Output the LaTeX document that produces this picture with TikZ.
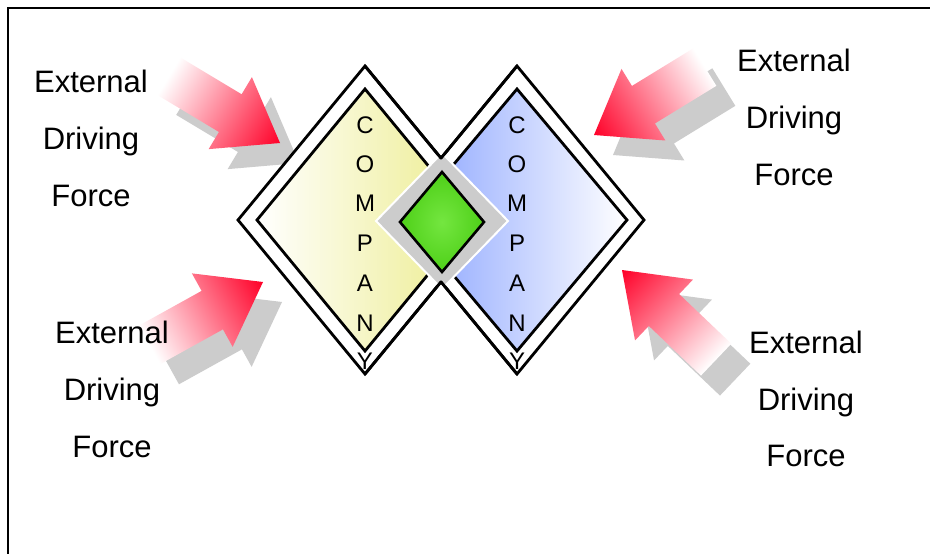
\documentclass[tikz,border=0pt]{standalone}
\usepackage{fontspec}
\setmainfont{Liberation Sans}
\definecolor{ylw}{RGB}{236,236,140}
\definecolor{blu}{RGB}{136,162,255}
\definecolor{shd}{RGB}{204,204,204}
\definecolor{arred}{RGB}{255,0,40}
\definecolor{grnin}{RGB}{116,230,64}
\definecolor{grnout}{RGB}{78,208,24}
\newcommand{\farrow}[3]{%
  \begin{scope}[transform canvas={shift={(#1+19,#2+20)},rotate=#3}]
    \fill[shd] (0,0) -- (-58,42) -- (-58,22) -- (-130,22) -- (-130,-22) -- (-58,-22) -- (-58,-42) -- cycle;
  \end{scope}
  \begin{scope}[transform canvas={shift={(#1,#2)},rotate=#3}]
    \shade[left color=white, right color=arred] (0,0) -- (-58,42) -- (-58,22) -- (-130,22) -- (-130,-22) -- (-58,-22) -- (-58,-42) -- cycle;
  \end{scope}}
\begin{document}
\begin{tikzpicture}[x=1pt,y=-1pt,
  frameline/.style={line width=2.5pt},
  outerd/.style={fill=white, draw=black, line width=2.8pt},
  innerd/.style={draw=black, line width=2.8pt},
  lbl/.style={anchor=base, inner sep=0pt, font=\fontsize{31}{31}\selectfont},
  ltr/.style={anchor=center, inner sep=0pt, font=\fontsize{24}{24}\selectfont}]
\useasboundingbox (0,0) rectangle (930,554);
\fill[white] (0,0) rectangle (930,554);
% frame
\draw[frameline] (8,554) -- (8,8) -- (930,8);
% arrows
\farrow{280}{143}{-31}
\farrow{594}{135}{-148.5}
\farrow{263}{282}{29}
\farrow{622}{270}{136.4}
% outer diamonds
\draw[outerd] (365,66) -- (492,220) -- (365,374) -- (238,220) -- cycle;
\draw[outerd] (517,66) -- (644,220) -- (517,374) -- (390,220) -- cycle;
% inner diamonds
\shadedraw[innerd, left color=white, right color=ylw] (365,89) -- (473,220) -- (365,351) -- (257,220) -- cycle;
\shadedraw[innerd, left color=blu, right color=white] (517,89) -- (627,220) -- (517,351) -- (407,220) -- cycle;
% gray centre, clipped to union of outer diamonds
\begin{scope}
  \clip (365,66) -- (492,220) -- (365,374) -- (238,220) -- cycle
        (517,66) -- (644,220) -- (517,374) -- (390,220) -- cycle;
  \draw[fill=shd, draw=white, line width=2pt] (442,153) -- (508,221) -- (442,289) -- (376,221) -- cycle;
\end{scope}
\coordinate (vt) at (441,158.2);
\coordinate (vb) at (441,281.8);
\draw[line width=2.8pt, line join=round] (365,66) -- (vt) -- (517,66);
\draw[line width=2.8pt, line join=round] (365,374) -- (vb) -- (517,374);
% green diamond
\shadedraw[line width=2.6pt, draw=black, inner color=grnin, outer color=grnout] (442,172) -- (484,222) -- (442,272) -- (400,222) -- cycle;
% COMPANY letters
\foreach \xx/\side in {365/l, 517/r}{
  \node[ltr] (\side c1) at (\xx,125) {C};
  \node[ltr] (\side c2) at (\xx,164) {O};
  \node[ltr] (\side c3) at (\xx,203) {M};
  \node[ltr] (\side c4) at (\xx,243) {P};
  \node[ltr] (\side c5) at (\xx,283) {A};
  \node[ltr] (\side c6) at (\xx,323) {N};
  \node[ltr] (\side c7) at (\xx,361) {Y};
}
% labels
\node[lbl] (tl1) at (91,92) {External};
\node[lbl] (tl2) at (91,149) {Driving};
\node[lbl] (tl3) at (91,206) {Force};
\node[lbl] (bl1) at (112,343) {External};
\node[lbl] (bl2) at (112,400) {Driving};
\node[lbl] (bl3) at (112,457) {Force};
\node[lbl] (tr1) at (794,71) {External};
\node[lbl] (tr2) at (794,128) {Driving};
\node[lbl] (tr3) at (794,185) {Force};
\node[lbl] (br1) at (806,353) {External};
\node[lbl] (br2) at (806,410) {Driving};
\node[lbl] (br3) at (806,466) {Force};
\end{tikzpicture}
\end{document}
